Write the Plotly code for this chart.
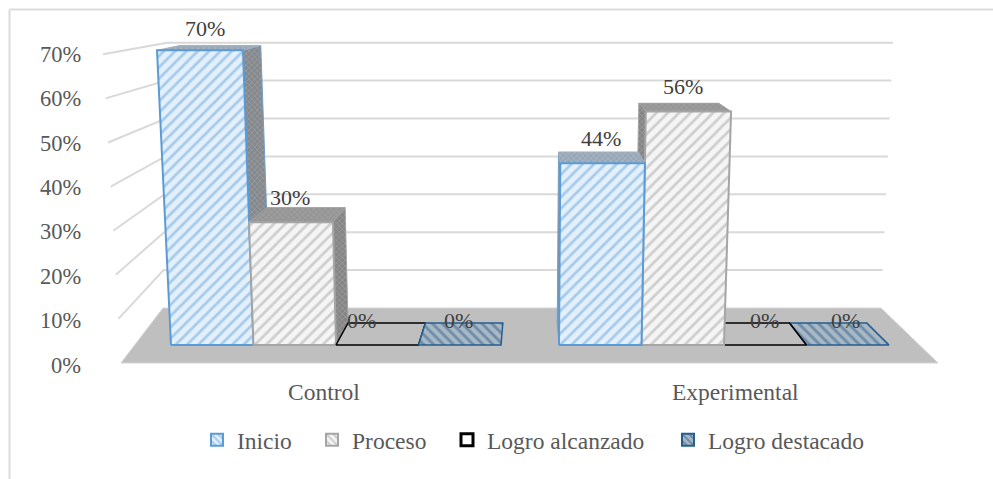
import plotly.graph_objects as go

# ---- data -----------------------------------------------------------
CATEGORIES = ["Control", "Experimental"]
SERIES = ["Inicio", "Proceso", "Logro alcanzado", "Logro destacado"]
INICIO = [70, 44]
PROCESO = [30, 56]
LOGRO_ALCANZADO = [0, 0]
LOGRO_DESTACADO = [0, 0]
Y_TICKS = [0, 10, 20, 30, 40, 50, 60, 70]
VALUES = [INICIO, PROCESO, LOGRO_ALCANZADO, LOGRO_DESTACADO]

# ---- scene geometry (pixels of the 993x479 canvas) ------------------
W, H = 993, 479
CAT0, CAT_STEP = 336.0, 388.0      # front-floor centre of first group, group spacing
BASE_Y = 345.0                     # front floor line of the bars
PX_PER_UNIT = 4.0
BAR_W = 82.5

def dx(px):
    return (px - CAT0) / CAT_STEP

def dy(py):
    return (BASE_Y - py) / PX_PER_UNIT

def project(X, v, z):
    """Perspective of a box point: X = front-floor px, v = value, z = 0 front / 1 back."""
    x1 = X + (531 - X) * 0.0617 * z
    sx = x1 + (x1 - 510) * 0.00059 * v
    sy = BASE_Y - 4.0 * v - 0.003 * v * v - z * (22 - 0.245 * v)
    return sx, sy

def poly(points):
    xs = [dx(p[0]) for p in points] + [dx(points[0][0])]
    ys = [dy(p[1]) for p in points] + [dy(points[0][1])]
    return xs, ys

STYLE = [
    dict(bg="#e3f0fb", fg="#6aa5da", line="#5b9bd5", top_bg="#a3b1bf", top_fg="#6f8598",
         side_bg="#85898d", side_fg="#b4b8bc", side_line="#6f9fc9"),
    dict(bg="#f5f5f5", fg="#a8a8a8", line="#a5a5a5", top_bg="#9c9c9c", top_fg="#7e7e7e",
         side_bg="#858585", side_fg="#b8b8b8", side_line="#a5a5a5"),
    dict(bg="#bfbfbf", fg="#bfbfbf", line="#000000"),
    dict(bg="#a9b8c5", fg="#2f5f8a", line="#255e91"),
]

fig = go.Figure()

# real bars: values + legend; the perspective faces are painted over them
legend_pattern = ["\\", "\\", "", "\\"]
legend_ids = ["legend", "legend2", "legend3", "legend4"]
for s, name in enumerate(SERIES):
    st = STYLE[s]
    is_empty = s == 2
    fig.add_trace(go.Bar(
        name=name, x=[0, 1], y=VALUES[s], legend=legend_ids[s], showlegend=True,
        marker=dict(
            color="#ffffff" if is_empty else st["fg"],
            line=dict(color=st["line"], width=3 if is_empty else 2),
            pattern=dict(shape=legend_pattern[s], fgcolor="#ffffff" if is_empty else st["fg"],
                         bgcolor="#ffffff" if is_empty else st["bg"], size=6, solidity=0.4),
        ),
        hoverinfo="skip",
    ))

def face(points, bg, fg, line, lw=1.0, shape="/", size=8, solidity=0.35):
    xs, ys = poly(points)
    fig.add_trace(go.Scatter(
        x=xs, y=ys, mode="lines", fill="toself", showlegend=False, hoverinfo="skip",
        fillcolor=bg, line=dict(color=line, width=lw),
        fillpattern=dict(shape=shape, fgcolor=fg, bgcolor=bg, size=size, solidity=solidity),
    ))

# floor
xs, ys = poly([(121, 363), (938, 363), (881, 308), (163, 308)])
fig.add_trace(go.Scatter(x=xs, y=ys, mode="lines", fill="toself", fillcolor="#bfbfbf",
                         line=dict(color="#d4d4d4", width=1), showlegend=False, hoverinfo="skip"))

# gridlines on the two walls, from the tick list
grid_x, grid_y = [], []
for t in Y_TICKS[1:]:
    grid_x += [dx(121 - 0.257 * t), dx(163 + 0.057 * t), dx(881 + 0.171 * t), None]
    grid_y += [dy(363 - 4.41 * t), dy(308 - 3.79 * t), dy(308 - 3.79 * t), None]
fig.add_trace(go.Scatter(x=grid_x, y=grid_y, mode="lines", line=dict(color="#d9d9d9", width=2),
                         showlegend=False, hoverinfo="skip"))

def bar_left(c, s):
    return CAT0 + CAT_STEP * c - 2 * BAR_W + s * BAR_W

def draw_box(c, s):
    st = STYLE[s]
    v = VALUES[s][c]
    L, R = bar_left(c, s), bar_left(c, s) + BAR_W
    if v == 0:
        quad = [project(L, 0, 0), project(R, 0, 0), project(R, 0, 1), project(L, 0, 1)]
        if s == 2:
            xs, ys = poly(quad)
            fig.add_trace(go.Scatter(x=xs, y=ys, mode="lines", line=dict(color=st["line"], width=1.5),
                                     showlegend=False, hoverinfo="skip"))
        else:
            face(quad, st["bg"], st["fg"], st["line"], 1.5, "\\", 7, 0.4)
        return
    edge = R if c == 0 else L
    side = [project(edge, v, 0), project(edge, v, 1), project(edge, 0, 1), project(edge, 0, 0)]
    top = [project(L, v, 0), project(R, v, 0), project(R, v, 1), project(L, v, 1)]
    front = [project(L, 0, 0), project(R, 0, 0), project(R, v, 0), project(L, v, 0)]
    face(side, st["side_bg"], st["side_fg"], st["side_line"], 1.0, "x", 4, 0.3)
    face(top, st["top_bg"], st["top_fg"], st["top_bg"], 1.0, "x", 4, 0.3)
    face(front, st["bg"], st["fg"], st["line"], 2.0, "/", 8, 0.35)

for c in range(len(CATEGORIES)):
    order = range(len(SERIES)) if c == 0 else reversed(range(len(SERIES)))
    for s in order:
        draw_box(c, s)

FONT = "Liberation Serif"
annotations = []

def note(px, py, text, size, color="#595959", xanchor="center"):
    annotations.append(dict(x=dx(px), y=dy(py), xref="x", yref="y", text=text, showarrow=False,
                            xanchor=xanchor, yanchor="middle",
                            font=dict(family=FONT, size=size, color=color)))

# value labels (nudges relative to the front-top centre of each box)
NUDGE = {(0, 0): (5, 3), (0, 1): (-1, 0), (0, 2): (-16, 0), (0, 3): (-1, 0),
         (1, 0): (-2, 0), (1, 1): (-5, 0), (1, 2): (-1, 0), (1, 3): (-2, 0)}
for s in range(len(SERIES)):
    for c in range(len(CATEGORIES)):
        v = VALUES[s][c]
        px, py = project(bar_left(c, s) + BAR_W / 2, v, 0)
        n = NUDGE[(c, s)]
        note(px + n[0], py - 25 + n[1], f"{v}%", 22, "#404040")

# axis labels
for t in Y_TICKS:
    note(83, 365 - 4.44 * t, f"{t}%", 22.5, xanchor="right")
for c, cat in enumerate(CATEGORIES):
    X = CAT0 + CAT_STEP * c
    note(X + (X - 530) * 0.06, 392, cat, 23.5)

# one legend per series so each entry can sit where the reference has it
LEGEND_TEXT_X = [237, 352, 487, 708]
legends = {}
for lid, tx in zip(legend_ids, LEGEND_TEXT_X):
    legends[lid] = dict(x=(tx - 40) / W, xanchor="left", y=(H - 440) / H, yanchor="middle",
                        orientation="h", bgcolor="rgba(0,0,0,0)",
                        itemclick=False, itemdoubleclick=False,
                        font=dict(family=FONT, size=23.5, color="#595959"))

fig.update_layout(
    width=W, height=H,
    margin=dict(l=0, r=0, t=0, b=0),
    paper_bgcolor="#ffffff", plot_bgcolor="#ffffff",
    barmode="group", bargap=0.15, bargroupgap=0.3,
    xaxis=dict(range=[dx(0), dx(W)], visible=False, fixedrange=True),
    yaxis=dict(range=[dy(H), dy(0)], visible=False, fixedrange=True),
    font=dict(family=FONT, size=22, color="#595959"),
    annotations=annotations,
    shapes=[
        dict(type="line", xref="paper", yref="paper", x0=9.5 / W, x1=1, y0=1 - 9.5 / H, y1=1 - 9.5 / H,
             line=dict(color="#dcdcdc", width=2)),
        dict(type="line", xref="paper", yref="paper", x0=9.5 / W, x1=9.5 / W, y0=0, y1=1 - 9.5 / H,
             line=dict(color="#dcdcdc", width=2)),
    ],
    **legends,
)

fig.write_html("out.html", config={"displayModeBar": False},
               post_script="document.body.style.margin='0';")
